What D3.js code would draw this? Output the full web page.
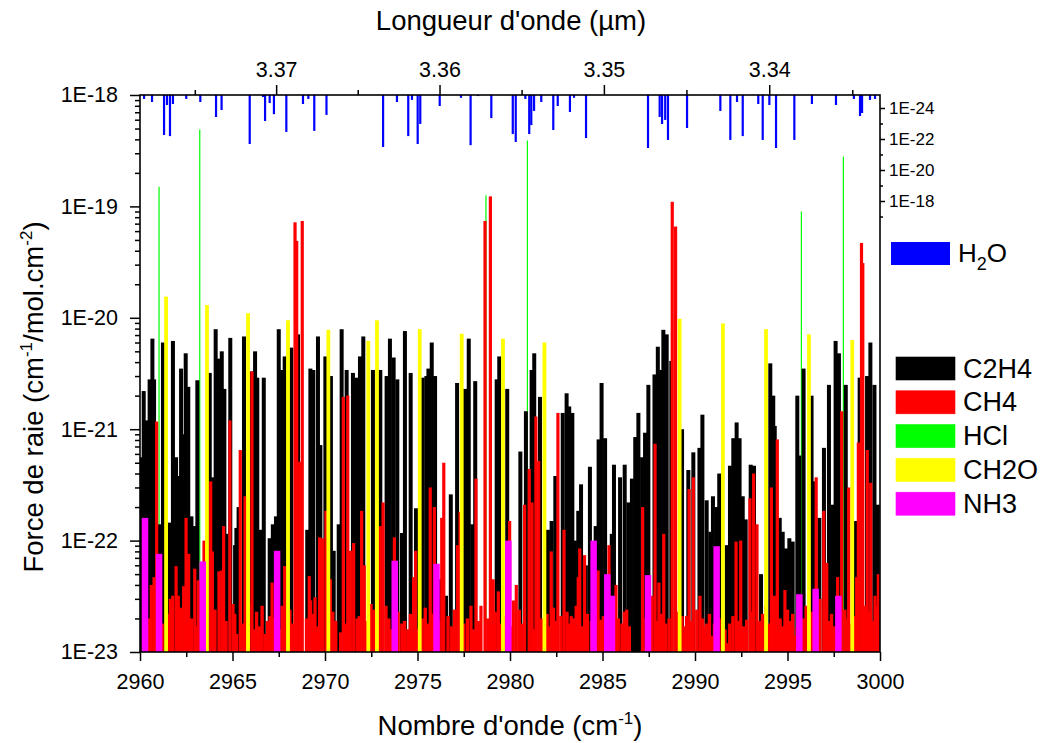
<!DOCTYPE html>
<html>
<head>
  <title>Force de raie</title>
  <meta http-equiv="content-type" content="text/html; charset=UTF-8">
  <script type="text/javascript" src="https://cdn.jsdelivr.net/npm/d3@7/dist/d3.min.js"></script>
  <style>
    body { margin: 0; background: #fff; }
    text { font-family: "Liberation Sans", Arial, sans-serif; fill: #000; }
  </style>
</head>
<body>
<script type="text/javascript">
  // line positions (cm-1) and strengths (cm-1/mol.cm-2)
  var c2h4 = [
    [2960.04,5.6e-22],[2960.20,2.2e-21],[2960.38,1.2e-21],[2960.52,2.8e-21],[2960.67,6.5e-21],[2960.76,2.8e-21],
    [2961.08,1.4e-22],[2961.24,6.0e-21],[2961.60,1.45e-22],[2961.78,6.2e-21],[2961.95,5.6e-22],[2962.07,3.8e-22],
    [2962.22,3.5e-21],[2962.35,9.0e-22],[2962.47,4.8e-21],[2962.61,2.4e-21],[2962.78,1.65e-22],[2962.96,1.35e-22],
    [2963.10,2.75e-21],[2963.77,3.2e-21],[2963.95,3.7e-22],[2964.09,7.9e-21],[2964.25,4.3e-21],[2964.42,5.0e-21],
    [2964.56,2.3e-21],[2964.68,1.15e-22],[2964.88,6.6e-21],[2965.14,9.1e-23],[2965.21,1.3e-22],[2965.33,2.0e-22],
    [2965.62,6.8e-21],[2966.02,3.3e-21],[2966.22,5.0e-21],[2966.34,2.9e-21],[2966.50,1.25e-22],[2966.69,2.9e-21],
    [2967.01,1.05e-22],[2967.18,1.4e-22],[2967.35,1.65e-22],[2967.50,7.9e-21],[2967.68,3.4e-21],[2967.82,4.5e-21],
    [2968.18,5.4e-21],[2968.54,7.1e-21],[2969.04,1.25e-22],[2969.21,3.5e-21],[2969.37,3.4e-21],[2969.62,6.8e-21],
    [2969.75,7.2e-22],[2970.02,4.5e-21],[2970.32,3.0e-21],[2970.47,8.1e-23],[2970.74,1.4e-22],[2970.90,7.9e-21],
    [2971.17,3.4e-21],[2971.51,3.2e-21],[2971.68,2.9e-21],[2971.89,4.5e-21],[2972.07,6.8e-21],[2972.59,3.4e-21],
    [2972.99,3.4e-21],[2973.33,3.0e-21],[2973.51,6.5e-21],[2973.71,4.4e-21],[2973.91,2.8e-21],[2974.16,1.17e-22],
    [2974.32,7.6e-21],[2974.63,3.2e-21],[2974.92,1.95e-22],[2975.28,2.9e-21],[2975.48,3.0e-21],[2975.59,3.5e-21],
    [2975.77,6.0e-21],[2975.95,3.0e-21],[2976.20,4.5e-23],[2976.54,3.2e-23],[2976.80,2.6e-22],[2977.14,2.6e-21],
    [2977.57,2.3e-21],[2977.77,6.5e-21],[2977.96,1.4e-22],[2978.12,2.7e-21],[2979.28,2.8e-21],[2979.42,4.5e-21],
    [2979.85,2.3e-21],[2980.56,6.3e-22],[2980.86,1.45e-21],[2981.17,3.4e-21],[2981.31,4.8e-21],[2981.62,1.95e-21],
    [2982.05,1.25e-22],[2982.25,1.5e-22],[2982.45,3.8e-22],[2982.85,1.4e-21],[2983.06,2.1e-21],[2983.20,1.6e-21],
    [2983.37,1.4e-21],[2983.51,1.0e-22],[2983.69,1.85e-22],[2983.84,3.2e-22],[2984.10,6.0e-23],[2984.32,4.6e-22],
    [2984.63,1.35e-22],[2984.79,8.1e-22],[2984.95,2.6e-21],[2985.14,8.3e-22],[2985.50,1.15e-22],[2985.62,4.8e-22],
    [2985.95,3.7e-22],[2986.20,4.8e-22],[2986.40,2.2e-22],[2986.59,3.6e-22],[2986.77,8.5e-22],[2986.94,1.4e-21],
    [2987.14,5.6e-22],[2987.30,9.3e-22],[2987.48,2.5e-21],[2987.81,3.1e-21],[2987.99,5.5e-21],[2988.15,3.4e-21],
    [2988.29,7.8e-21],[2988.47,7.1e-21],[2988.72,4.1e-21],[2989.30,1.0e-21],[2989.64,4.3e-22],[2989.91,6.2e-22],
    [2990.24,6.8e-22],[2990.40,1.35e-21],[2990.63,2.3e-22],[2990.83,1.2e-22],[2990.97,2.5e-22],[2991.17,2.0e-22],
    [2991.31,4.0e-22],[2991.71,9.1e-23],[2991.89,4.7e-22],[2992.07,8.3e-22],[2992.25,1.15e-21],[2992.41,8.3e-22],
    [2992.58,2.5e-22],[2992.74,1.55e-22],[2993.01,4.8e-22],[2993.19,4.7e-22],[2993.57,5.0e-23],[2994.07,3.9e-21],
    [2994.23,2.0e-21],[2994.31,1.07e-21],[2994.58,1.6e-22],[2994.74,1.2e-22],[2994.92,8.5e-23],[2995.10,1.05e-22],
    [2995.28,9.8e-23],[2995.53,2.0e-21],[2995.64,5.8e-22],[2995.87,3.5e-21],[2996.30,2.0e-21],[2996.43,3.4e-22],
    [2996.72,1.6e-22],[2996.97,6.8e-22],[2997.24,2.5e-21],[2997.42,2.1e-22],[2997.60,6.2e-21],[2997.78,4.8e-21],
    [2998.15,2.5e-21],[2998.69,1.5e-22],[2998.90,2.9e-21],[2999.30,3.0e-21],[2999.48,6.0e-21],[2999.70,2.5e-21],
    [2999.88,2.1e-22]
  ];

  var ch4 = [
    [2960.61,4.0e-23],[2960.76,4.7e-23],[2960.90,1.17e-21],[2961.64,3.0e-23],[2961.77,3.2e-23],[2961.95,5.9e-23],
    [2962.07,3.2e-23],[2962.36,3.9e-23],[2962.49,1.6e-22],[2962.63,7.6e-23],[2962.96,5.6e-23],[2963.15,4.4e-23],
    [2963.46,1.0e-22],[2963.82,3.4e-22],[2963.91,8.0e-23],[2964.27,5.3e-23],[2964.42,5.4e-23],[2964.52,1.35e-22],
    [2964.86,1.2e-21],[2965.03,2.7e-23],[2965.23,1.45e-23],[2965.42,6.5e-22],[2965.68,2.5e-22],[2965.89,2.7e-23],
    [2966.05,3.3e-21],[2966.16,1.6e-23],[2966.76,1.45e-23],[2967.03,2.1e-23],[2967.14,4.2e-23],[2967.68,2.6e-23],
    [2967.82,5.9e-23],[2968.38,7.2e-20],[2968.47,4.9e-20],[2968.63,5.1e-22],[2968.77,7.4e-20],[2969.15,4.8e-23],
    [2969.22,2.9e-23],[2969.46,3.1e-23],[2969.71,1.07e-22],[2969.87,1.05e-22],[2970.05,1.85e-22],[2970.29,4.5e-23],
    [2970.99,1.95e-21],[2971.23,2.0e-21],[2971.37,8.1e-23],[2971.55,9.5e-23],[2971.73,2.0e-23],[2971.98,1.85e-22],
    [2972.12,6.0e-23],[2972.49,2.7e-23],[2972.99,1.35e-22],[2973.14,2.2e-22],[2973.30,2.6e-23],[2973.75,1.07e-22],
    [2974.15,1.8e-23],[2974.47,1.6e-23],[2974.79,4.7e-23],[2974.90,8.1e-23],[2975.69,3.0e-22],[2975.91,2.0e-22],
    [2976.31,1.6e-22],[2976.42,5.0e-22],[2977.17,9.1e-23],[2977.30,1.8e-22],[2977.89,2.6e-23],[2978.16,3.6e-22],
    [2978.43,2.6e-23],[2978.65,7.4e-20],[2978.94,1.23e-19],[2979.09,4.5e-23],[2979.37,3.5e-23],[2979.98,1.5e-22],
    [2980.18,2.9e-23],[2980.34,4.0e-23],[2980.79,2.1e-22],[2981.04,4.4e-22],[2981.19,2.2e-22],[2981.40,1.3e-21],
    [2981.55,5.2e-22],[2982.23,8.0e-23],[2982.59,1.4e-21],[2982.92,1.25e-22],[2983.31,2.1e-23],[2983.69,4.7e-23],
    [2983.77,8.5e-23],[2984.03,7.4e-23],[2984.76,5.4e-23],[2984.90,1.95e-23],[2985.35,9.1e-23],[2985.73,4.0e-23],
    [2986.31,2.4e-23],[2987.17,2.0e-22],[2987.68,3.2e-23],[2987.84,7.4e-22],[2988.05,4.2e-23],[2988.31,1.15e-22],
    [2988.77,1.1e-19],[2988.95,6.6e-20],[2989.30,2.1e-23],[2989.68,2.9e-22],[2989.91,3.7e-22],[2990.27,3.2e-23],
    [2990.63,1.8e-23],[2990.93,1.4e-23],[2991.74,1.2e-23],[2992.22,9.8e-23],[2992.47,1.0e-22],[2992.79,1.95e-23],
    [2992.97,2.4e-22],[2993.17,4.0e-22],[2993.35,1.4e-22],[2993.82,2.6e-23],[2994.13,3.0e-22],[2994.29,3.2e-23],
    [2994.45,8.1e-22],[2994.86,3.6e-23],[2995.41,1.4e-23],[2996.00,2.6e-23],[2996.55,3.7e-22],[2996.76,3.0e-23],
    [2996.96,1.85e-22],[2997.12,6.3e-23],[2997.71,4.7e-23],[2997.93,1.45e-21],[2998.31,3.0e-22],[2998.74,4.7e-23],
    [2998.83,7.6e-22],[2999.00,4.7e-20],[2999.07,3.1e-20],[2999.19,2.6e-23],[2999.31,6.5e-22],[2999.50,3.3e-22],
    [2999.73,3.2e-23],[2999.91,5.0e-23]
  ];

  // the many weak CH4 lines that make the red band along the bottom
  var ch4Weak = [
    [2960.45,2.0e-23],[2961.20,1.8e-23],[2961.52,2.2e-23],[2962.20,2.5e-23],[2962.78,2.0e-23],[2963.05,1.7e-23],
    [2964.05,2.4e-23],[2964.65,1.9e-23],[2965.12,2.2e-23],[2965.55,1.8e-23],[2966.30,2.3e-23],[2966.45,1.7e-23],
    [2966.60,2.6e-23],[2966.90,1.9e-23],[2967.28,2.0e-23],[2967.55,1.6e-23],[2968.10,2.4e-23],[2968.25,1.8e-23],
    [2969.00,2.0e-23],[2969.33,2.2e-23],[2969.58,1.7e-23],[2970.42,2.3e-23],[2970.58,1.9e-23],[2970.85,1.5e-23],
    [2971.10,1.8e-23],[2971.85,2.1e-23],[2972.25,1.9e-23],[2972.65,2.4e-23],[2972.88,1.7e-23],[2973.45,2.0e-23],
    [2973.60,1.6e-23],[2973.95,2.3e-23],[2974.30,1.9e-23],[2974.62,2.2e-23],[2975.05,1.6e-23],[2975.25,2.0e-23],
    [2975.42,2.5e-23],[2975.55,1.8e-23],[2975.80,2.2e-23],[2976.15,1.9e-23],[2976.65,2.1e-23],[2976.85,1.7e-23],
    [2977.00,2.4e-23],[2977.50,1.8e-23],[2977.70,2.0e-23],[2978.02,1.6e-23],[2978.30,1.9e-23],[2978.80,2.0e-23],
    [2979.20,2.3e-23],[2979.50,1.8e-23],[2979.75,2.1e-23],[2980.05,1.7e-23],[2980.50,2.4e-23],[2980.65,1.8e-23],
    [2981.30,1.6e-23],[2981.70,2.0e-23],[2982.00,2.2e-23],[2982.12,1.7e-23],[2982.35,2.5e-23],[2982.48,1.9e-23],
    [2982.75,2.1e-23],[2983.08,2.3e-23],[2983.20,1.8e-23],[2983.45,2.0e-23],[2983.58,2.6e-23],[2983.92,1.7e-23],
    [2984.18,2.2e-23],[2984.40,1.9e-23],[2984.65,2.4e-23],[2985.05,2.1e-23],[2985.18,1.6e-23],[2985.85,2.0e-23],
    [2986.05,1.8e-23],[2986.18,2.3e-23],[2986.45,1.7e-23],[2987.35,2.0e-23],[2987.55,2.4e-23],[2987.95,1.9e-23],
    [2988.18,2.2e-23],[2988.42,1.8e-23],[2988.60,2.0e-23],[2989.05,2.3e-23],[2989.45,1.7e-23],[2989.55,2.1e-23],
    [2989.80,1.9e-23],[2990.10,2.4e-23],[2990.42,2.0e-23],[2990.52,1.7e-23],[2990.78,2.2e-23],[2991.05,1.8e-23],
    [2991.30,2.0e-23],[2991.62,1.6e-23],[2991.88,1.8e-23],[2992.05,2.1e-23],[2992.35,1.9e-23],[2992.62,1.7e-23],
    [2993.05,2.3e-23],[2993.48,1.9e-23],[2993.65,2.2e-23],[2994.00,1.8e-23],[2994.60,2.0e-23],[2994.72,1.7e-23],
    [2995.00,2.4e-23],[2995.15,1.9e-23],[2995.28,2.2e-23],[2995.52,1.7e-23],[2995.88,2.0e-23],[2996.30,2.3e-23],
    [2996.42,1.8e-23],[2996.65,2.1e-23],[2997.00,2.5e-23],[2997.25,1.9e-23],[2997.38,2.2e-23],[2997.55,1.7e-23],
    [2998.10,2.4e-23],[2998.22,2.0e-23],[2998.42,1.8e-23],[2998.62,2.1e-23],[2999.42,2.3e-23],[2999.60,1.9e-23],
    [2999.82,2.6e-23]
  ];

  var hcl = [
    [2961.03,1.5e-19],[2963.23,4.9e-19],[2978.70,1.26e-19],[2980.94,3.9e-19],[2995.75,9.0e-20],[2998.02,2.8e-19]
  ];

  var ch2o = [
    [2961.41,1.55e-20],[2963.62,1.3e-20],[2965.84,1.1e-20],[2968.00,9.5e-21],[2970.18,7.8e-21],[2972.34,6.2e-21],
    [2972.81,9.5e-21],[2975.12,7.9e-21],[2977.39,7.2e-21],[2979.62,6.5e-21],[2981.86,6.0e-21],[2989.17,9.8e-21],
    [2991.51,8.9e-21],[2993.84,7.9e-21],[2996.16,7.1e-21],[2998.50,6.3e-21]
  ];

  var nh3 = [
    [2960.27,1.6e-22],[2961.03,7.6e-23],[2963.39,6.5e-23],[2967.41,8.1e-23],[2973.77,6.6e-23],[2976.03,6.2e-23],
    [2979.91,1.0e-22],[2984.52,1.0e-22],[2985.26,5.0e-23],[2985.51,3.2e-23],[2987.46,4.9e-23],[2991.17,8.9e-23],
    [2995.64,3.3e-23],[2996.52,3.7e-23],[2997.75,3.2e-23]
  ];

  var h2o = [
    [2960.22,2.6e-25],[2960.65,4.1e-25],[2961.30,5.5e-23],[2961.46,6.4e-25],[2961.62,6.5e-23],[2961.78,5.5e-25],
    [2962.50,2.6e-25],[2963.26,4.1e-25],[2964.11,3.8e-24],[2964.41,1.35e-24],[2965.93,2.1e-22],[2966.65,1.95e-25],
    [2966.76,6.9e-24],[2967.01,4.8e-25],[2967.24,2.5e-24],[2967.91,3.5e-23],[2968.81,5.5e-25],[2969.10,2.6e-25],
    [2969.42,3.0e-23],[2970.08,2.8e-24],[2973.14,3.3e-22],[2973.89,4.1e-25],[2974.50,6.5e-23],[2974.70,3.0e-25],
    [2975.01,2.1e-22],[2975.15,1.07e-23],[2976.20,7.4e-25],[2977.35,2.2e-25],[2977.87,2.5e-22],[2978.27,1.7e-25],
    [2978.99,4.5e-24],[2980.15,4.8e-23],[2980.31,1.55e-22],[2980.83,2.6e-25],[2981.04,4.8e-23],[2981.15,1.26e-23],
    [2981.30,1.55e-24],[2981.69,4.1e-25],[2982.34,2.6e-23],[2982.58,7.4e-25],[2983.24,1.8e-24],[2983.46,2.2e-25],
    [2984.11,8.7e-23],[2987.46,3.8e-22],[2988.09,3.8e-24],[2988.22,1.07e-23],[2988.39,5.9e-24],[2988.54,1.15e-22],
    [2989.57,1.95e-23],[2991.37,1.55e-24],[2991.91,1.15e-22],[2992.27,4.1e-25],[2992.58,6.5e-23],[2993.42,5.5e-25],
    [2993.66,1.15e-22],[2994.02,6.4e-25],[2994.38,3.8e-22],[2995.37,1.15e-22],[2996.32,5.5e-25],[2997.62,6.4e-25],
    [2998.59,2.6e-25],[2998.92,3.3e-24],[2999.03,2.1e-24],[2999.46,3.0e-25],[2999.73,2.6e-25]
  ];

  var wnTicks = [2960, 2965, 2970, 2975, 2980, 2985, 2990, 2995, 3000];
  var wlTicks = [3.37, 3.36, 3.35, 3.34];
  var wlMinor = [3.375, 3.365, 3.355, 3.345, 3.335];
  var sTicks = [1e-23, 1e-22, 1e-21, 1e-20, 1e-19, 1e-18];
  var h2oTicks = [1e-24, 1e-22, 1e-20, 1e-18];
  var h2oMinor = [1e-23, 1e-21, 1e-19, 1e-17];

  var legendItems = [
    {name: "C2H4", color: "#000000"},
    {name: "CH4", color: "#ff0000"},
    {name: "HCl", color: "#00ff00"},
    {name: "CH2O", color: "#ffff00"},
    {name: "NH3", color: "#ff00ff"}
  ];

  var width = 1042, height = 743;
  var L = 140, R = 880, T = 95, B = 652;

  var x = d3.scaleLinear().domain([2960, 3000]).range([L, R]);
  var y = d3.scaleLog().domain([1e-23, 1e-18]).range([B, T]);
  var yH = d3.scaleLog().domain([1e-24, 1e-18]).range([108, 201]);

  var svg = d3.select("body").append("svg")
    .attr("width", width)
    .attr("height", height);

  svg.append("clipPath").attr("id", "clip")
    .append("rect").attr("x", L).attr("y", T).attr("width", R - L).attr("height", B - T);

  var plot = svg.append("g").attr("clip-path", "url(#clip)");

  function lines(data, color, w) {
    plot.append("g").selectAll("rect")
      .data(data)
      .enter().append("rect")
      .attr("x", function (d) { return x(d[0]) - w / 2; })
      .attr("width", w)
      .attr("y", function (d) { return y(d[1]); })
      .attr("height", function (d) { return B - y(d[1]); })
      .style("fill", color);
  }

  lines(hcl, "#00ff00", 1.2);
  lines(c2h4, "#000000", 4);
  lines(ch4Weak, "#ff0000", 3.4);
  lines(ch4, "#ff0000", 3.2);
  lines(ch2o, "#ffff00", 3.8);
  lines(nh3, "#ff00ff", 6.5);

  // water lines hang from the top frame, own log axis on the right
  plot.append("g").selectAll("rect")
    .data(h2o)
    .enter().append("rect")
    .attr("x", function (d) { return x(d[0]) - 1.1; })
    .attr("width", 2.2)
    .attr("y", T)
    .attr("height", function (d) { return yH(d[1]) - T; })
    .style("fill", "#0000ff");

  // frame
  svg.append("rect")
    .attr("x", L).attr("y", T).attr("width", R - L).attr("height", B - T)
    .style("fill", "none").style("stroke", "#000").style("stroke-width", 1.6);

  function styleAxis(g, size) {
    g.select(".domain").remove();
    g.selectAll(".tick line").style("stroke", "#000").style("stroke-width", 1.5);
    g.selectAll(".tick text").style("font-size", size + "px").style("fill", "#000")
      .style("font-family", "'Liberation Sans', Arial, sans-serif");
  }

  var minorWn = wnTicks.slice(0, -1).map(function (d) { return d + 2.5; });

  svg.append("g").attr("transform", "translate(0," + B + ")")
    .call(d3.axisBottom(x).tickValues(wnTicks).tickSize(9).tickPadding(13).tickFormat(d3.format("d")))
    .call(styleAxis, 21.5);
  svg.append("g").attr("transform", "translate(0," + B + ")")
    .call(d3.axisBottom(x).tickValues(minorWn).tickSize(5).tickFormat(""))
    .call(styleAxis, 21.5);

  svg.append("g").attr("transform", "translate(0," + T + ")")
    .call(d3.axisTop(x).tickValues(wlTicks.map(function (l) { return 1e4 / l; }))
      .tickSize(10).tickPadding(8)
      .tickFormat(function (d) { return d3.format(".2f")(1e4 / d); }))
    .call(styleAxis, 21.5);
  svg.append("g").attr("transform", "translate(0," + T + ")")
    .call(d3.axisTop(x).tickValues(wlMinor.map(function (l) { return 1e4 / l; })).tickSize(5).tickFormat(""))
    .call(styleAxis, 21.5);

  var minorS = [];
  sTicks.slice(0, -1).forEach(function (d) {
    for (var k = 2; k < 10; k++) minorS.push(d * k);
  });

  svg.append("g").attr("transform", "translate(" + L + ",0)")
    .call(d3.axisLeft(y).tickValues(sTicks).tickSize(10).tickPadding(12)
      .tickFormat(function (d) { return "1E" + Math.round(Math.log10(d)); }))
    .call(styleAxis, 21.5);
  svg.append("g").attr("transform", "translate(" + L + ",0)")
    .call(d3.axisLeft(y).tickValues(minorS).tickSize(5).tickFormat(""))
    .call(styleAxis, 21.5);

  svg.append("g").attr("transform", "translate(" + R + ",0)")
    .call(d3.axisRight(yH).tickValues(h2oTicks).tickSize(5).tickPadding(4)
      .tickFormat(function (d) { return "1E" + Math.round(Math.log10(d)); }))
    .call(styleAxis, 17);
  svg.append("g").attr("transform", "translate(" + R + ",0)")
    .call(d3.axisRight(yH).tickValues(h2oMinor).tickSize(3).tickFormat(""))
    .call(styleAxis, 17);

  // axis titles
  var xt = svg.append("text").attr("x", 510).attr("y", 735)
    .attr("text-anchor", "middle").style("font-size", "27.5px");
  xt.append("tspan").text("Nombre d'onde (cm");
  xt.append("tspan").attr("dy", -11).style("font-size", "17px").text("-1");
  xt.append("tspan").attr("dy", 11).text(")");

  svg.append("text").attr("x", 511).attr("y", 30)
    .attr("text-anchor", "middle").style("font-size", "27.5px")
    .text("Longueur d'onde (\u00b5m)");

  var yt = svg.append("text")
    .attr("transform", "translate(43,397) rotate(-90)")
    .attr("text-anchor", "middle").style("font-size", "27.5px");
  yt.append("tspan").text("Force de raie (cm");
  yt.append("tspan").attr("dy", -11).style("font-size", "17px").text("-1");
  yt.append("tspan").attr("dy", 11).text("/mol.cm");
  yt.append("tspan").attr("dy", -11).style("font-size", "17px").text("-2");
  yt.append("tspan").attr("dy", 11).text(")");

  // legends
  svg.append("rect").attr("x", 891).attr("y", 242).attr("width", 59).attr("height", 23)
    .style("fill", "#0000ff");
  var hl = svg.append("text").attr("x", 958).attr("y", 262).style("font-size", "26px");
  hl.append("tspan").text("H");
  hl.append("tspan").attr("dy", 8).style("font-size", "18px").text("2");
  hl.append("tspan").attr("dy", -8).text("O");

  var leg = svg.append("g").selectAll("g")
    .data(legendItems)
    .enter().append("g")
    .attr("transform", function (d, i) { return "translate(896," + (357 + i * 33.8) + ")"; });
  leg.append("rect").attr("width", 59).attr("height", 23)
    .style("fill", function (d) { return d.color; })
    .style("stroke", function (d) { return d3.color(d.color).brighter(0.6); })
    .style("stroke-width", 0.6);
  leg.append("text").attr("x", 67).attr("y", 20.5).style("font-size", "27px")
    .text(function (d) { return d.name; });
</script>
</body>
</html>
